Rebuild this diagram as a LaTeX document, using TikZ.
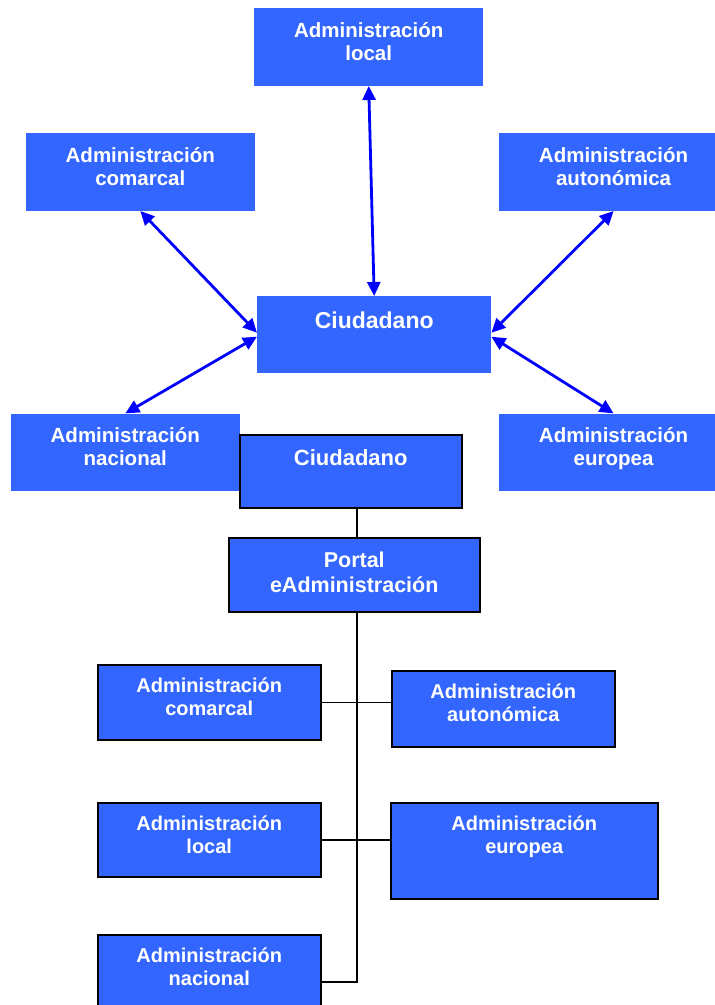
\documentclass[tikz,border=0pt]{standalone}
\usepackage{fontspec}
\setmainfont{Liberation Sans}
\usepackage{xcolor}
\usetikzlibrary{arrows.meta, positioning}

\definecolor{boxblue}{RGB}{51,102,255}
\definecolor{arrowblue}{RGB}{0,0,255}

\tikzset{
    topbox/.style={fill=boxblue, text=white, align=center, inner sep=0pt,
        text width=229pt, text height=28.7pt, text depth=48.8pt,
        font=\fontsize{20.5}{23.5}\selectfont\bfseries},
    botbox/.style={draw=black, line width=1.5pt, fill=boxblue, text=white,
        align=center, inner sep=0pt, text width=223pt, text height=28pt,
        anchor=north west, font=\fontsize{20}{22.5}\selectfont\bfseries},
    biarrow/.style={{Triangle[length=14pt,width=13pt]}-{Triangle[length=14pt,width=13pt]},
        draw=arrowblue, line width=2.8pt},
    tree/.style={draw=black, line width=1.5pt}
}

\begin{document}
\begin{tikzpicture}[x=1pt, y=-1pt]
        \useasboundingbox (0,0) rectangle (715,1005);
        \clip (0,0) rectangle (715,1005);

        % Ciudadano en el centro
        \node[topbox, anchor=north west, text width=234pt, text height=32pt, text depth=45pt,
            font=\fontsize{23}{26}\selectfont\bfseries] (ciudA) at (257,296) {Ciudadano};

        % Administraciones alrededor
        \node[topbox, above=210pt of ciudA, xshift=-5.5pt] (localA) {Administración\\local};
        \node[topbox, above left=85pt and 2pt of ciudA] (comarcalA) {Administración\\comarcal};
        \node[topbox, above right=85pt and 7pt of ciudA, text width=230pt] (autonomicaA) {Administración\\autonómica};
        \node[topbox, below left=40pt and 17pt of ciudA] (nacionalA) {Administración\\nacional};
        \node[topbox, below right=40pt and 7pt of ciudA, text width=230pt] (europeaA) {Administración\\europea};

        % Relaciones
        \draw[biarrow] (localA.south) -- (ciudA.north);
        \draw[biarrow] (comarcalA.south) -- ([yshift=2pt]ciudA.west);
        \draw[biarrow] (autonomicaA.south) -- ([yshift=2pt]ciudA.east);
        \draw[biarrow] (nacionalA.north) -- ([yshift=-2pt]ciudA.west);
        \draw[biarrow] (europeaA.north) -- ([yshift=-2pt]ciudA.east);

        % Ciudadano y portal
        \node[botbox, text width=222pt, text height=31pt, text depth=42pt,
            font=\fontsize{22}{25}\selectfont\bfseries] (ciudB) at (239,434) {Ciudadano};
        \node[botbox, text width=251pt, text height=30pt, text depth=44pt,
            font=\fontsize{21.5}{25}\selectfont\bfseries] (portal) at (228,537) {Portal\\eAdministración};

        % Administraciones del portal
        \node[botbox, text depth=47pt] (comarcalB) at (97,664) {Administración\\comarcal};
        \node[botbox, text depth=48pt] (autonomicaB) at (391,670) {Administración\\autonómica};
        \node[botbox, text depth=46pt] (localB) at (97,802) {Administración\\local};
        \node[botbox, text width=267pt, text depth=68pt] (europeaB) at (390,802) {Administración\\europea};
        \node[botbox, text depth=66pt] (nacionalB) at (97,934) {Administración\\nacional};

        % Lineas
        \coordinate (trunk) at (357,0);
        \draw[tree] (ciudB.south -| trunk) -- (portal.north -| trunk);
        \draw[tree] (portal.south -| trunk) -- (trunk |- nacionalB.east) -- (nacionalB.east);
        \draw[tree] (comarcalB.east) -- (comarcalB.east -| autonomicaB.west);
        \draw[tree] (localB.east) -- (localB.east -| europeaB.west);
    \end{tikzpicture}
\end{document}
